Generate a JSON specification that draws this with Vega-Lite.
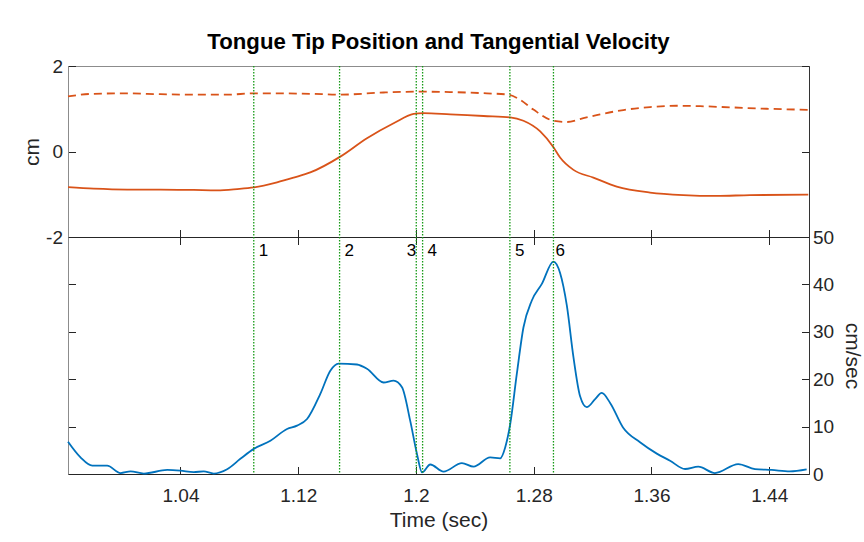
{
  "$schema": "https://vega.github.io/schema/vega-lite/v6.json",
  "background": "white",
  "padding": {"left": 21, "top": 31, "right": 0, "bottom": 8},
  "bounds": "flush",
  "spacing": 0,
  "title": {"text": "Tongue Tip Position and Tangential Velocity", "font": "Liberation Sans", "fontSize": 22.2, "fontWeight": "bold", "color": "#000000", "anchor": "middle", "frame": "group", "offset": 3},
  "config": {
    "font": "Liberation Sans",
    "view": {"stroke": "#8c8c8c", "strokeWidth": 1},
    "axis": {"grid": false, "labelFont": "Liberation Sans", "titleFont": "Liberation Sans", "labelFontSize": 19, "titleFontSize": 21, "titleFontWeight": "normal", "labelColor": "#262626", "titleColor": "#262626", "tickColor": "#262626", "domainColor": "#262626", "tickSize": -7.5, "tickWidth": 1}
  },
  "datasets": {
    "solid": [
      {"t": 0.9636, "v": -0.835}, {"t": 0.9812, "v": -0.87}, {"t": 1.0038, "v": -0.89}, {"t": 1.0264, "v": -0.89}, {"t": 1.049, "v": -0.9}, {"t": 1.0649, "v": -0.91}, {"t": 1.0785, "v": -0.88}, {"t": 1.0898, "v": -0.84}, {"t": 1.1056, "v": -0.72}, {"t": 1.1169, "v": -0.61}, {"t": 1.1282, "v": -0.49}, {"t": 1.1486, "v": -0.12}, {"t": 1.1667, "v": 0.31}, {"t": 1.1848, "v": 0.66}, {"t": 1.1984, "v": 0.88}, {"t": 1.2051, "v": 0.9}, {"t": 1.2233, "v": 0.87}, {"t": 1.2459, "v": 0.83}, {"t": 1.264, "v": 0.8}, {"t": 1.273, "v": 0.72}, {"t": 1.2844, "v": 0.47}, {"t": 1.2934, "v": 0.1}, {"t": 1.2979, "v": -0.14}, {"t": 1.307, "v": -0.43}, {"t": 1.3205, "v": -0.61}, {"t": 1.3364, "v": -0.82}, {"t": 1.359, "v": -0.96}, {"t": 1.3816, "v": -1.02}, {"t": 1.4043, "v": -1.04}, {"t": 1.4269, "v": -1.02}, {"t": 1.4665, "v": -1.01}
    ],
    "dashed": [
      {"t": 0.9636, "v": 1.29}, {"t": 0.9812, "v": 1.35}, {"t": 1.0038, "v": 1.36}, {"t": 1.0264, "v": 1.34}, {"t": 1.049, "v": 1.33}, {"t": 1.0717, "v": 1.33}, {"t": 1.0898, "v": 1.36}, {"t": 1.1056, "v": 1.36}, {"t": 1.1282, "v": 1.35}, {"t": 1.1486, "v": 1.33}, {"t": 1.178, "v": 1.38}, {"t": 1.2029, "v": 1.4}, {"t": 1.2233, "v": 1.39}, {"t": 1.2482, "v": 1.36}, {"t": 1.2628, "v": 1.33}, {"t": 1.2708, "v": 1.21}, {"t": 1.2798, "v": 0.98}, {"t": 1.2934, "v": 0.72}, {"t": 1.3025, "v": 0.69}, {"t": 1.3137, "v": 0.78}, {"t": 1.3251, "v": 0.87}, {"t": 1.3409, "v": 0.97}, {"t": 1.359, "v": 1.04}, {"t": 1.3771, "v": 1.07}, {"t": 1.393, "v": 1.06}, {"t": 1.4156, "v": 1.03}, {"t": 1.4382, "v": 1.0}, {"t": 1.4665, "v": 0.975}
    ],
    "vel": [
      {"t": 0.9636, "v": 6.8}, {"t": 0.9721, "v": 3.5}, {"t": 0.9801, "v": 1.75}, {"t": 0.9902, "v": 1.75}, {"t": 0.9993, "v": 0.2}, {"t": 1.0061, "v": 0.55}, {"t": 1.0151, "v": 0.1}, {"t": 1.031, "v": 0.85}, {"t": 1.04, "v": 0.7}, {"t": 1.049, "v": 0.4}, {"t": 1.0558, "v": 0.55}, {"t": 1.0626, "v": 0.1}, {"t": 1.0717, "v": 1.0}, {"t": 1.0807, "v": 3.2}, {"t": 1.0898, "v": 5.3}, {"t": 1.1011, "v": 7.0}, {"t": 1.1124, "v": 9.5}, {"t": 1.1192, "v": 10.2}, {"t": 1.126, "v": 11.6}, {"t": 1.135, "v": 16.9}, {"t": 1.1418, "v": 21.8}, {"t": 1.1474, "v": 23.3}, {"t": 1.1599, "v": 23.1}, {"t": 1.1667, "v": 22.2}, {"t": 1.178, "v": 19.3}, {"t": 1.1848, "v": 19.7}, {"t": 1.1905, "v": 18.3}, {"t": 1.1961, "v": 11.2}, {"t": 1.2007, "v": 4.2}, {"t": 1.2041, "v": 0.35}, {"t": 1.2097, "v": 2.0}, {"t": 1.2187, "v": 0.5}, {"t": 1.2312, "v": 2.3}, {"t": 1.2391, "v": 1.55}, {"t": 1.2504, "v": 3.5}, {"t": 1.2572, "v": 3.3}, {"t": 1.2606, "v": 5.6}, {"t": 1.264, "v": 10.5}, {"t": 1.2685, "v": 21.1}, {"t": 1.273, "v": 30.9}, {"t": 1.2787, "v": 36.6}, {"t": 1.2855, "v": 40.1}, {"t": 1.2934, "v": 44.8}, {"t": 1.2979, "v": 42.4}, {"t": 1.3025, "v": 35.5}, {"t": 1.307, "v": 24.6}, {"t": 1.3115, "v": 16.4}, {"t": 1.316, "v": 14.1}, {"t": 1.3217, "v": 15.8}, {"t": 1.3262, "v": 17.1}, {"t": 1.3319, "v": 15.0}, {"t": 1.3409, "v": 9.7}, {"t": 1.3522, "v": 6.7}, {"t": 1.3636, "v": 4.3}, {"t": 1.3726, "v": 2.8}, {"t": 1.3828, "v": 1.05}, {"t": 1.3918, "v": 1.55}, {"t": 1.4031, "v": 0.2}, {"t": 1.4189, "v": 2.1}, {"t": 1.4303, "v": 1.05}, {"t": 1.4416, "v": 0.85}, {"t": 1.454, "v": 0.55}, {"t": 1.4654, "v": 0.97}
    ],
    "events": [
      {"t": 1.0898, "label": "1"}, {"t": 1.1481, "label": "2"}, {"t": 1.2002, "label": "3"}, {"t": 1.2045, "label": "4"}, {"t": 1.2638, "label": "5"}, {"t": 1.2934, "label": "6"}
    ]
  },
  "vconcat": [
    {
      "width": 741,
      "height": 171,
      "layer": [
        {
          "data": {"name": "solid"},
          "mark": {"type": "line", "color": "#D95319", "strokeWidth": 1.8, "interpolate": "monotone"},
          "encoding": {
            "x": {"field": "t", "type": "quantitative", "scale": {"domain": [0.9636, 1.467], "nice": false, "zero": false}, "axis": {"orient": "bottom", "values": [1.04, 1.12, 1.2, 1.28, 1.36, 1.44], "labels": false, "title": null}},
            "y": {"field": "v", "type": "quantitative", "scale": {"domain": [-2, 2], "nice": false, "zero": false}, "axis": {"orient": "left", "values": [-2, 0, 2], "labelExpr": "'' + datum.value", "title": "cm", "domainColor": "#8c8c8c", "labelPadding": 13, "titlePadding": 3}}
          }
        },
        {
          "data": {"name": "dashed"},
          "mark": {"type": "line", "color": "#D95319", "strokeWidth": 1.8, "strokeDash": [8, 5], "interpolate": "monotone"},
          "encoding": {
            "x": {"field": "t", "type": "quantitative"},
            "y": {"field": "v", "type": "quantitative", "axis": {"orient": "right", "values": [-2, 0, 2], "labels": false, "title": null, "domainColor": "#333333"}}
          }
        },
        {
          "data": {"name": "events"},
          "mark": {"type": "rule", "color": "#169a16", "strokeWidth": 1.3, "strokeDash": [1.5, 1.5]},
          "encoding": {
            "x": {"field": "t", "type": "quantitative"}
          }
        }
      ],
      "resolve": {"axis": {"y": "independent"}}
    },
    {
      "width": 741,
      "height": 237,
      "layer": [
        {
          "data": {"name": "vel"},
          "mark": {"type": "line", "color": "#0072BD", "strokeWidth": 1.8, "interpolate": "monotone"},
          "encoding": {
            "x": {"field": "t", "type": "quantitative", "scale": {"domain": [0.9636, 1.467], "nice": false, "zero": false}, "axis": {"orient": "bottom", "values": [1.04, 1.12, 1.2, 1.28, 1.36, 1.44], "labelExpr": "'' + datum.value", "title": "Time (sec)", "labelPadding": 19.5, "titlePadding": 4}},
            "y": {"field": "v", "type": "quantitative", "scale": {"domain": [0, 50], "nice": false, "zero": false}, "axis": {"orient": "right", "values": [0, 10, 20, 30, 40, 50], "labelExpr": "'' + datum.value", "title": "cm/sec", "domainColor": "#333333", "labelPadding": 11, "titlePadding": 8}}
          }
        },
        {
          "data": {"name": "events"},
          "mark": {"type": "rule", "color": "#169a16", "strokeWidth": 1.3, "strokeDash": [1.5, 1.5]},
          "encoding": {
            "x": {"field": "t", "type": "quantitative", "axis": {"orient": "top", "values": [1.04, 1.12, 1.2, 1.28, 1.36, 1.44], "labels": false, "title": null}}
          }
        },
        {
          "data": {"name": "events"},
          "transform": [{"filter": "datum.label !== '3' && datum.label !== '6'"}],
          "mark": {"type": "text", "align": "left", "baseline": "middle", "dx": 5, "fontSize": 17, "font": "Liberation Sans", "color": "#000000"},
          "encoding": {
            "x": {"field": "t", "type": "quantitative", "axis": null},
            "y": {"datum": 47, "type": "quantitative", "axis": {"orient": "left", "values": [0, 10, 20, 30, 40, 50], "labels": false, "title": null, "domainColor": "#8c8c8c"}},
            "text": {"field": "label"}
          }
        },
        {
          "data": {"name": "events"},
          "transform": [{"filter": "datum.label === '6'"}],
          "mark": {"type": "text", "align": "left", "baseline": "middle", "dx": 2, "fontSize": 17, "font": "Liberation Sans", "color": "#000000"},
          "encoding": {
            "x": {"field": "t", "type": "quantitative", "axis": null},
            "y": {"datum": 47, "type": "quantitative", "axis": null},
            "text": {"field": "label"}
          }
        },
        {
          "data": {"name": "events"},
          "transform": [{"filter": "datum.label === '3'"}],
          "mark": {"type": "text", "align": "right", "baseline": "middle", "dx": 0, "fontSize": 17, "font": "Liberation Sans", "color": "#000000"},
          "encoding": {
            "x": {"field": "t", "type": "quantitative", "axis": null},
            "y": {"datum": 47, "type": "quantitative", "axis": null},
            "text": {"field": "label"}
          }
        }
      ],
      "resolve": {"axis": {"x": "independent", "y": "independent"}}
    }
  ]
}
